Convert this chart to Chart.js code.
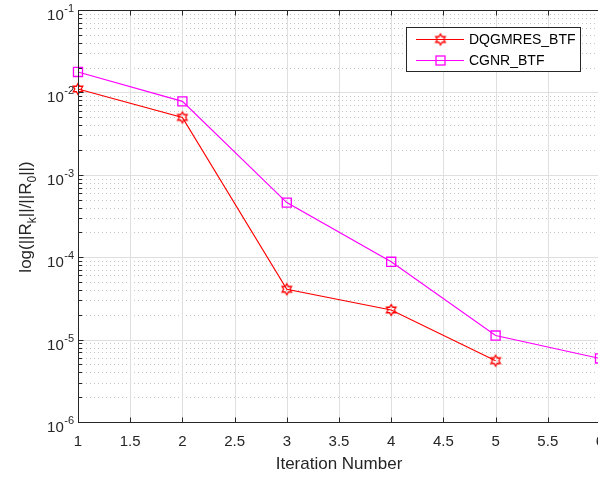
<!DOCTYPE html>
<html>
<head>
<meta charset="utf-8">
<script src="https://cdn.jsdelivr.net/npm/chart.js@4.4.1/dist/chart.umd.min.js"></script>
<style>
    html, body { margin: 0; padding: 0; background: #fff; overflow: hidden; width: 598px; height: 478px; }
    #wrap { position: absolute; left: 0; top: 0; width: 620px; height: 478px; }
</style>
</head>
<body>
<div id="wrap"><canvas id="chart" width="620" height="478"></canvas></div>
<script>
// Chart data
const iterations = [1, 2, 3, 4, 5, 6];
const dqgmresValues = [0.0110, 0.00497, 4.08e-5, 2.29e-5, 5.55e-6];
const cgnrValues = [0.0177, 0.00778, 4.6e-4, 8.8e-5, 1.12e-5, 5.9e-6];
const seriesLabels = ['DQGMRES_BTF', 'CGNR_BTF'];
const seriesColors = ['#ff0000', '#ff00ff'];
const xTicks = [1, 1.5, 2, 2.5, 3, 3.5, 4, 4.5, 5, 5.5, 6];
const yDecades = [-6, -5, -4, -3, -2, -1];
const xTitle = 'Iteration Number';

const FONT = "'Liberation Sans', Arial, Helvetica, sans-serif";
const AXIS_COLOR = '#262626';

// six-pointed star marker, drawn once into a small canvas
function makeHexagram(color) {
    const size = 16;
    const c = document.createElement('canvas');
    c.width = size;
    c.height = size;
    const ctx = c.getContext('2d');
    const R = 5.5, r = R / Math.sqrt(3);
    ctx.beginPath();
    for (let i = 0; i < 12; i++) {
        const a = -Math.PI / 2 + i * Math.PI / 6;
        const rad = i % 2 === 0 ? R : r;
        const px = size / 2 + rad * Math.cos(a);
        const py = size / 2 + rad * Math.sin(a);
        if (i === 0) ctx.moveTo(px, py); else ctx.lineTo(px, py);
    }
    ctx.closePath();
    ctx.strokeStyle = color;
    ctx.lineWidth = 1.3;
    ctx.stroke();
    return c;
}

const hexagram = makeHexagram(seriesColors[0]);

function toPoints(values) {
    return values.map((v, i) => ({ x: iterations[i], y: v }));
}

function drawMarker(ctx, index, x, y) {
    if (index === 0) {
        ctx.drawImage(hexagram, x - hexagram.width / 2, y - hexagram.height / 2);
    } else {
        ctx.strokeStyle = seriesColors[1];
        ctx.lineWidth = 1.3;
        ctx.strokeRect(x - 4.5, y - 4.5, 9, 9);
    }
}

// MATLAB-like axes: grid, box, inward ticks, labels, legend
const matlabAxes = {
    id: 'matlabAxes',
    beforeDatasetsDraw(chart) {
        const ctx = chart.ctx;
        const { left, right, top, bottom } = chart.chartArea;
        const xs = chart.scales.x, ys = chart.scales.y;
        ctx.save();
        ctx.lineWidth = 1;

        // minor horizontal grid (dotted)
        ctx.strokeStyle = '#c4c4c4';
        ctx.setLineDash([1, 3]);
        yDecades.slice(0, -1).forEach(e => {
            for (let m = 2; m <= 9; m++) {
                const py = Math.round(ys.getPixelForValue(m * Math.pow(10, e))) + 0.5;
                ctx.beginPath();
                ctx.moveTo(left, py);
                ctx.lineTo(right, py);
                ctx.stroke();
            }
        });

        // major grid (solid)
        ctx.setLineDash([]);
        ctx.strokeStyle = '#dfdfdf';
        yDecades.forEach(e => {
            const py = Math.round(ys.getPixelForValue(Math.pow(10, e))) + 0.5;
            ctx.beginPath();
            ctx.moveTo(left, py);
            ctx.lineTo(right, py);
            ctx.stroke();
        });
        xTicks.forEach(t => {
            const px = Math.round(xs.getPixelForValue(t)) + 0.5;
            ctx.beginPath();
            ctx.moveTo(px, top);
            ctx.lineTo(px, bottom);
            ctx.stroke();
        });
        ctx.restore();
    },
    afterDatasetsDraw(chart) {
        const ctx = chart.ctx;
        const { left, right, top, bottom } = chart.chartArea;
        const xs = chart.scales.x, ys = chart.scales.y;
        const L = Math.round(left) + 0.5, R = Math.round(right) + 0.5;
        const T = Math.round(top) + 0.5, B = Math.round(bottom) + 0.5;
        ctx.save();
        ctx.strokeStyle = AXIS_COLOR;
        ctx.lineWidth = 1;
        ctx.strokeRect(L, T, R - L, B - T);

        // ticks
        ctx.beginPath();
        xTicks.forEach(t => {
            const px = Math.round(xs.getPixelForValue(t)) + 0.5;
            ctx.moveTo(px, B); ctx.lineTo(px, B - 5);
            ctx.moveTo(px, T); ctx.lineTo(px, T + 5);
        });
        yDecades.forEach(e => {
            const py = Math.round(ys.getPixelForValue(Math.pow(10, e))) + 0.5;
            ctx.moveTo(L, py); ctx.lineTo(L + 5, py);
            if (e === yDecades[yDecades.length - 1]) return;
            for (let m = 2; m <= 9; m++) {
                const pm = Math.round(ys.getPixelForValue(m * Math.pow(10, e))) + 0.5;
                ctx.moveTo(L, pm); ctx.lineTo(L + 3.5, pm);
            }
        });
        ctx.stroke();

        // x tick labels
        ctx.fillStyle = AXIS_COLOR;
        ctx.font = '15px ' + FONT;
        ctx.textAlign = 'center';
        ctx.textBaseline = 'alphabetic';
        xTicks.forEach(t => {
            ctx.fillText(String(t), xs.getPixelForValue(t), bottom + 24);
        });

        // y tick labels 10^e
        yDecades.forEach(e => {
            const py = ys.getPixelForValue(Math.pow(10, e));
            const sup = String(e);
            ctx.font = '11px ' + FONT;
            const ws = ctx.measureText(sup).width;
            ctx.textAlign = 'left';
            ctx.fillText(sup, 74 - ws, py + 2);
            ctx.font = '15px ' + FONT;
            ctx.textAlign = 'right';
            ctx.fillText('10', 74 - ws - 0.5, py + 10);
        });

        // x title
        ctx.font = '17px ' + FONT;
        ctx.textAlign = 'center';
        ctx.fillText(xTitle, (left + right) / 2, bottom + 47);

        // y title with subscripts
        const parts = [
            { t: 'log(||R', s: 17, dy: 0 },
            { t: 'k', s: 12, dy: 5 },
            { t: '||/||R', s: 17, dy: 0 },
            { t: '0', s: 12, dy: 5 },
            { t: '||)', s: 17, dy: 0 }
        ];
        let total = 0;
        parts.forEach(p => {
            ctx.font = p.s + 'px ' + FONT;
            p.w = ctx.measureText(p.t).width;
            total += p.w;
        });
        ctx.translate(31, (top + bottom) / 2 + 1);
        ctx.rotate(-Math.PI / 2);
        ctx.textAlign = 'left';
        let cx = -total / 2;
        parts.forEach(p => {
            ctx.font = p.s + 'px ' + FONT;
            ctx.fillText(p.t, cx, p.dy);
            cx += p.w;
        });
        ctx.restore();

        // legend box
        ctx.save();
        ctx.fillStyle = '#ffffff';
        ctx.strokeStyle = AXIS_COLOR;
        ctx.lineWidth = 1;
        ctx.fillRect(406.5, 27.5, 174, 44);
        ctx.strokeRect(406.5, 27.5, 174, 44);
        seriesLabels.forEach((label, i) => {
            const ly = 39.5 + i * 21;
            ctx.strokeStyle = seriesColors[i];
            ctx.lineWidth = 1.2;
            ctx.beginPath();
            ctx.moveTo(416, ly);
            ctx.lineTo(464, ly);
            ctx.stroke();
            drawMarker(ctx, i, 440.5, ly);
            ctx.fillStyle = '#000000';
            ctx.font = '14px ' + FONT;
            ctx.textAlign = 'left';
            ctx.textBaseline = 'middle';
            ctx.fillText(label, 469, ly + 1);
        });
        ctx.restore();
    }
};

const chart = new Chart(document.getElementById('chart'), {
    type: 'line',
    data: {
        datasets: [
            {
                label: seriesLabels[0],
                data: toPoints(dqgmresValues),
                borderColor: seriesColors[0],
                borderWidth: 1.2,
                pointStyle: hexagram,
                pointRadius: 5,
                fill: false,
                tension: 0,
                clip: false
            },
            {
                label: seriesLabels[1],
                data: toPoints(cgnrValues),
                borderColor: seriesColors[1],
                backgroundColor: 'transparent',
                borderWidth: 1.2,
                pointStyle: 'rect',
                pointRadius: 6.4,
                pointBorderWidth: 1.3,
                fill: false,
                tension: 0,
                clip: false
            }
        ]
    },
    options: {
        responsive: false,
        animation: false,
        layout: { padding: { left: 78, top: 10, right: 20, bottom: 56 } },
        plugins: {
            legend: { display: false },
            tooltip: { enabled: false }
        },
        scales: {
            x: { type: 'linear', min: 1, max: 6, display: false },
            y: { type: 'logarithmic', min: 1e-6, max: 1e-1, display: false }
        }
    },
    plugins: [matlabAxes]
});
</script>
</body>
</html>
